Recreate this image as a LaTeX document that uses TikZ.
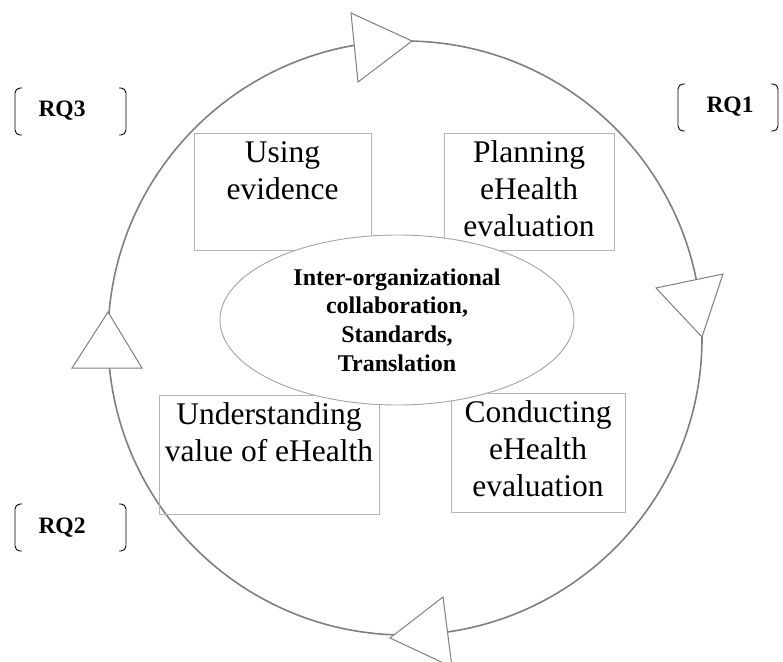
\documentclass[tikz,border=0pt]{standalone}
\usepackage{fontspec}
\setmainfont{Liberation Serif}
\usetikzlibrary{shapes.geometric}
\definecolor{ringgray}{HTML}{7F7F7F}
\definecolor{boxgray}{HTML}{B5B5B5}
\definecolor{coregray}{HTML}{A3A3A3}
\begin{document}
\begin{tikzpicture}[x=1pt,y=-1pt,
  ring/.style={draw=ringgray, line width=1.6pt, circle, minimum size=594pt, inner sep=0pt},
  arrowhead/.style={draw=ringgray, line width=1pt, fill=white, line join=miter},
  stagebox/.style={draw=boxgray, line width=1pt, rectangle, inner sep=0pt},
  stagetext/.style={anchor=north, inner sep=0pt, align=center, font=\fontsize{31.5}{37}\selectfont},
  core/.style={ellipse, draw=coregray, line width=0.9pt, fill=white, minimum width=354pt,
    minimum height=170pt, inner sep=0pt, align=center, font=\fontsize{24}{28.8}\selectfont\bfseries},
  rq/.style={font=\fontsize{23.5}{27}\selectfont\bfseries, inner sep=0pt},
  bracket/.style={draw=black, line width=0.9pt, rounded corners=5pt}]
\useasboundingbox (0,0) rectangle (783,661);

% the evaluation cycle
\node[ring] (cycle) at (405,338) {};

% direction markers on the cycle
\draw[arrowhead] (351,13) -- (358,82) -- (412,41) -- cycle;
\draw[arrowhead] (656,288) -- (723,274) -- (702,337) -- cycle;
\draw[arrowhead] (443,597) -- (452,667) -- (390,638) -- cycle;
\draw[arrowhead] (72,368) -- (142,368) -- (108,312) -- cycle;

% stage boxes
\node[stagebox, minimum width=177pt, minimum height=117pt] (ue) at (282.5,191.5) {};
\node[stagebox, minimum width=170pt, minimum height=117pt] (pe) at (529,191.5) {};
\node[stagebox, minimum width=220pt, minimum height=119pt] (uv) at (269,454.5) {};
\node[stagebox, minimum width=174pt, minimum height=119pt] (ce) at (538,452.5) {};

% central themes
\node[core] (themes) at (397,320) {Inter-organizational\\collaboration,\\Standards,\\Translation};

% stage labels
\node[stagetext] (ue-t) at ([yshift=-4pt]ue.north) {\strut Using\\evidence};
\node[stagetext] (pe-t) at ([yshift=-4pt]pe.north) {\strut Planning\\eHealth\\evaluation};
\node[stagetext] (uv-t) at ([yshift=-4pt]uv.north) {\strut Understanding\\value of eHealth};
\node[stagetext] (ce-t) at ([yshift=-4pt]ce.north) {\strut Conducting\\eHealth\\evaluation};

% research questions
\node[rq] (rq3) at (62,111) {RQ3};
\node[rq] (rq1) at (730,107) {RQ1};
\node[rq] (rq2) at (62,528) {RQ2};

\draw[bracket] (22,88) -- (15,88) -- (15,135) -- (22,135);
\draw[bracket] (119,88) -- (126,88) -- (126,135) -- (119,135);
\draw[bracket] (685,84) -- (678,84) -- (678,131) -- (685,131);
\draw[bracket] (771,84) -- (778,84) -- (778,131) -- (771,131);
\draw[bracket] (22,504) -- (15,504) -- (15,551) -- (22,551);
\draw[bracket] (119,504) -- (126,504) -- (126,551) -- (119,551);
\end{tikzpicture}
\end{document}
